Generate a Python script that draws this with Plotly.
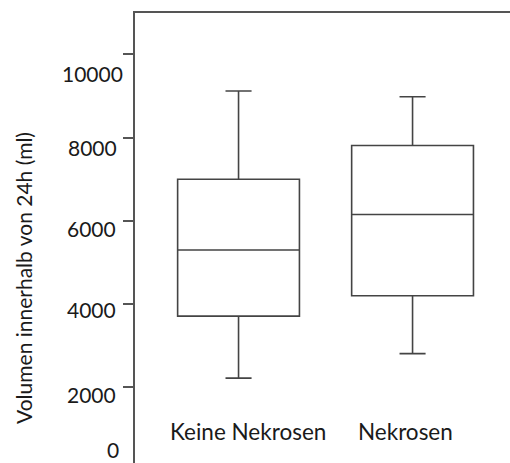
import plotly.graph_objects as go

# Summary statistics of 24h volume (ml) per group
categories = ["Keine Nekrosen", "Nekrosen"]
lower_whisker = [2220, 2810]
q1_values = [3710, 4200]
medians = [5300, 6150]
q3_values = [7000, 7810]
upper_whisker = [9120, 8980]

y_ticks = [2000, 4000, 6000, 8000, 10000]
y_tick_text = ["2000", "4000", "6000", "8000", "10000"]
y_title = "Volumen innerhalb von 24h (ml)"

FONT = "Lato"
LINE = "#444444"
TEXT = "#1a1a1a"

# hand-set label nudges (px) relative to each tick
label_dx = [-17, -17, -17, -16, -10]
label_dy = [-7, -5, -8, -10, -19]

fig = go.Figure()
for i, name in enumerate(categories):
    fig.add_trace(go.Box(
        x=[i],
        q1=[q1_values[i]],
        median=[medians[i]],
        q3=[q3_values[i]],
        lowerfence=[lower_whisker[i]],
        upperfence=[upper_whisker[i]],
        name=name,
        width=0.7,
        whiskerwidth=0.214,
        boxpoints=False,
        fillcolor="rgba(255,255,255,0)",
        line=dict(color=LINE, width=1.6),
        showlegend=False,
        hoverinfo="skip",
    ))

# value labels beside the y ticks
for v, t, dx, dy in zip(y_ticks, y_tick_text, label_dx, label_dy):
    fig.add_annotation(x=0, xref="paper", y=v, yref="y", text=t,
                       xshift=dx, yshift=dy, showarrow=False,
                       xanchor="right", yanchor="middle",
                       font=dict(family=FONT, size=21, color=TEXT))

# zero label at the foot of the axis
fig.add_annotation(x=0, xref="paper", y=0.029, yref="paper", text="0",
                   xshift=-14, showarrow=False, xanchor="right", yanchor="middle",
                   font=dict(family=FONT, size=21, color=TEXT))

# category labels under the boxes
label_x = [0.057, 0.96]
for name, lx in zip(categories, label_x):
    fig.add_annotation(x=lx, xref="x", y=0.069, yref="paper", text=name,
                       showarrow=False, xanchor="center", yanchor="middle",
                       font=dict(family=FONT, size=22.5, color=TEXT))

# rotated axis title
fig.add_annotation(x=-0.299, xref="paper", y=0.411, yref="paper", text=y_title,
                   textangle=-90, showarrow=False, xanchor="center", yanchor="middle",
                   font=dict(family=FONT, size=21, color=TEXT))

fig.update_layout(
    width=510, height=463,
    margin=dict(l=135, r=0, t=13, b=0),
    plot_bgcolor="white", paper_bgcolor="white",
    xaxis=dict(
        type="linear", range=[-0.595, 1.56],
        showline=True, linecolor="#555555", linewidth=1.5, side="top",
        showticklabels=False, ticks="", showgrid=False, zeroline=False,
    ),
    yaxis=dict(
        range=[182, 10992],
        tickvals=y_ticks, showticklabels=False,
        ticks="outside", ticklen=10, tickwidth=1.5, tickcolor="#555555",
        showline=True, linecolor="#555555", linewidth=1.5,
        showgrid=False, zeroline=False,
    ),
)

fig.write_html("out.html")
